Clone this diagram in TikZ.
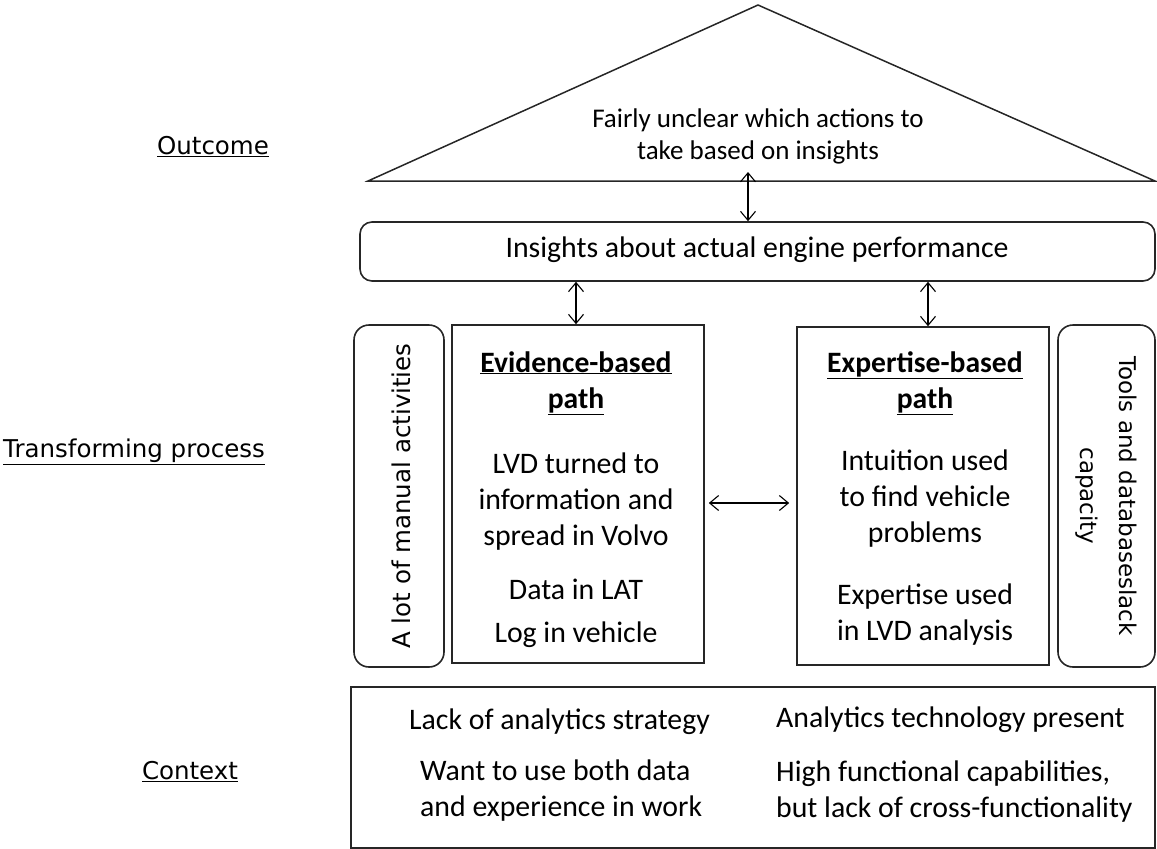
\documentclass[tikz,border=0pt]{standalone}
\usepackage{fontspec}
\setmainfont{Carlito}
\newfontfamily\labfont{DejaVu Sans}
\usetikzlibrary{arrows.meta,calc}
\begin{document}
\begin{tikzpicture}[x=1pt,y=-1pt,
  boxline/.style={draw=black!85,line width=1.6pt},
  sqbox/.style={boxline,rectangle,inner sep=0pt},
  rbox/.style={boxline,rectangle,rounded corners=13pt,inner sep=0pt},
  darr/.style={line width=1.1pt,{Straight Barb[length=9pt,width=15pt]}-{Straight Barb[length=9pt,width=15pt]}},
  txt/.style={font=\fontsize{29.8}{36}\selectfont,align=center,inner sep=0pt},
  small/.style={font=\fontsize{27}{32}\selectfont,align=center,inner sep=0pt},
  lab/.style={font=\labfont\fontsize{24.5}{28}\selectfont,inner sep=0pt},
  head/.style={font=\bfseries\fontsize{29.6}{36}\selectfont,align=center,inner sep=0pt}]
\useasboundingbox (0,0) rectangle (1157,849);
% triangle
\coordinate (apex) at (758,5);
\coordinate (bl) at (368,181);
\coordinate (br) at (1155,181);
\draw[line width=1.5pt,draw=black!85] (bl) -- (apex) -- (br) -- cycle;
\node[small] (out) at (758,136) {Fairly unclear which actions to\\take based on insights};
% insights
\node[rbox,minimum width=795,minimum height=59,rounded corners=12pt] (ins) at (757.5,251.5) {};
\node[txt] (inst) at (757,250) {Insights about actual engine performance};
\coordinate (ta) at (748,172);
\draw[darr] (ta) -- (ta |- ins.north);
% side boxes
\node[rbox,minimum width=90,minimum height=342,rounded corners=15pt] (man) at (399,496) {};
\node[lab,rotate=90] (mant) at (401,496) {A lot of manual activities};
\node[rbox,minimum width=97,minimum height=342,rounded corners=15pt] (tool) at (1106.5,496) {};
\node[lab,rotate=-90,align=center,font=\labfont\fontsize{23}{39}\selectfont] (toolt) at (1106,496) {Tools and databaseslack\\capacity};
% paths
\node[sqbox,minimum width=252,minimum height=338] (ev) at (578,494) {};
\node[sqbox,minimum width=252,minimum height=338] (ex) at (923,496) {};
\node[head] (evh) at (576,383) {\underline{Evidence-based}\\\underline{path}};
\node[txt] (ev1) at (576,502) {LVD turned to\\information and\\spread in Volvo};
\node[txt] (ev2) at (576,589) {Data in LAT};
\node[txt] (ev3) at (576,635) {Log in vehicle};
\node[head] (exh) at (925,383) {\underline{Expertise-based}\\\underline{path}};
\node[txt] (ex1) at (925,499) {Intuition used\\to find vehicle\\problems};
\node[txt] (ex2) at (925,615) {Expertise used\\in LVD analysis};
\draw[darr] ([xshift=-2pt]ev.north) -- ([xshift=-2pt]ev.north |- ins.south);
\draw[darr] ([xshift=5pt]ex.north) -- ([xshift=5pt]ex.north |- ins.south);
\draw[darr,shorten <=4pt,shorten >=7pt] (ev.east |- 0,503) -- (ex.west |- 0,503);
% context
\node[sqbox,minimum width=804,minimum height=161] (ctx) at (753,767.5) {};
\node[txt,anchor=west] (c1) at (409,722) {Lack of analytics strategy};
\node[txt,anchor=west,align=left] (c2) at (420,791) {Want to use both data\\and experience in work};
\node[txt,anchor=west] (c3) at (776,720) {Analytics technology present};
\node[txt,anchor=west,align=left] (c4) at (776,792) {High functional capabilities,\\but lack of cross-functionality};
% row labels
\node[lab] (lo) at (213,147) {\underline{Outcome}};
\node[lab] (lt) at (134,452) {\underline{Transforming process}};
\node[lab] (lc) at (190,772) {\underline{Context}};
\end{tikzpicture}
\end{document}
